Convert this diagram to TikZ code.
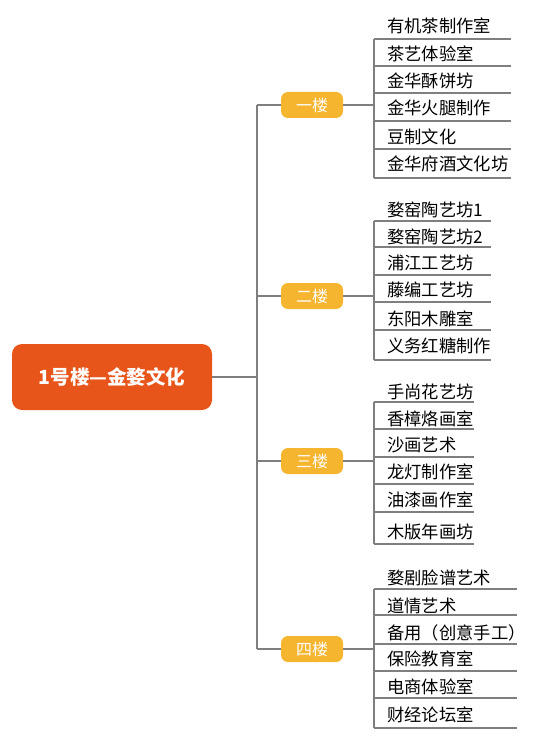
\documentclass[tikz,border=0pt]{standalone}
\usepackage{fontspec}
\setmainfont{Noto Sans CJK SC}
\definecolor{rootc}{HTML}{E8551A}
\definecolor{floorc}{HTML}{F6B52F}
\definecolor{linec}{HTML}{7F7F7F}
\tikzset{
  rootbox/.style={draw=none,fill=rootc,rounded corners=10pt,minimum width=200pt,minimum height=66pt,text=white,font=\fontsize{19.5}{21}\selectfont\bfseries,inner sep=0pt},
  floorbox/.style={draw=none,fill=floorc,rounded corners=7pt,minimum width=62pt,minimum height=26pt,text=white,font=\fontsize{16}{18}\selectfont,inner sep=0pt},
  item/.style={anchor=west,inner sep=0pt,font=\fontsize{17.3}{19}\selectfont,text=black},
  conn/.style={draw=linec,line width=2pt},
}
\begin{document}
\begin{tikzpicture}[x=1pt,y=-1pt]
\useasboundingbox (0,0) rectangle (554,743);
% root
\node[rootbox] (root) at (112,377) {1号楼—金婺文化};
\coordinate (tr) at (257,377);
\coordinate (ttop) at (257,105);
\coordinate (tbot) at (257,649);
\draw[conn] (root.east) -- (tr);
\draw[conn] (ttop) -- (tbot);
% floors
\node[floorbox] (f1) at (312,105) {一楼};
\node[floorbox] (f2) at (312,296) {二楼};
\node[floorbox] (f3) at (312,461) {三楼};
\node[floorbox] (f4) at (312,649) {四楼};
\foreach \f/\y in {f1/105,f2/296,f3/461,f4/649}{
  \coordinate (\f L) at (257,\y);
  \coordinate (\f R) at (374,\y);
  \draw[conn] (\f L) -- (\f.west);
  \draw[conn] (\f.east) -- (\f R);
}
% group 1
\foreach \t/\ty/\u [count=\i] in {
  有机茶制作室/26/39.3, 茶艺体验室/54/65.7, 金华酥饼坊/81/93.3,
  金华火腿制作/108/121, 豆制文化/137/149, 金华府酒文化坊/164/178.3}{
  \node[item] (a\i) at (387,\ty) {\t};
  \coordinate (a\i l) at (374,\u);
  \coordinate (a\i r) at (510.7,\u);
  \draw[conn] (a\i l) -- (a\i r);
}
\draw[conn] (a1l) -- (a6l);
% group 2
\foreach \t/\ty/\u [count=\i] in {
  婺窑陶艺坊1/210/220.7, 婺窑陶艺坊2/236.7/246.7, 浦江工艺坊/263.3/275,
  藤编工艺坊/290/302.3, 东阳木雕室/319.3/330, 义务红糖制作/345.7/360}{
  \node[item] (b\i) at (387,\ty) {\t};
  \coordinate (b\i l) at (374,\u);
  \coordinate (b\i r) at (490.7,\u);
  \draw[conn] (b\i l) -- (b\i r);
}
\draw[conn] (b1l) -- (b6l);
% group 3
\foreach \t/\ty/\u [count=\i] in {
  手尚花艺坊/391.7/402.3, 香樟烙画室/419.3/429, 沙画艺术/445/457.3,
  龙灯制作室/471.7/484, 油漆画作室/500/511.7, 木版年画坊/532.3/544.3}{
  \node[item] (c\i) at (387,\ty) {\t};
  \coordinate (c\i l) at (374,\u);
  \coordinate (c\i r) at (474.3,\u);
  \draw[conn] (c\i l) -- (c\i r);
}
\draw[conn] (c1l) -- (c6l);
% group 4
\foreach \t/\ty/\u [count=\i] in {
  婺剧脸谱艺术/577.7/588.7, 道情艺术/606/615.3, 备用（创意手工）/633.3/643.7,
  保险教育室/659.3/670.7, 电商体验室/686.7/698.3, 财经论坛室/715/728.3}{
  \node[item] (d\i) at (387,\ty) {\t};
  \coordinate (d\i l) at (374,\u);
  \coordinate (d\i r) at (517.3,\u);
  \draw[conn] (d\i l) -- (d\i r);
}
\draw[conn] (d1l) -- (d6l);
\end{tikzpicture}
\end{document}
